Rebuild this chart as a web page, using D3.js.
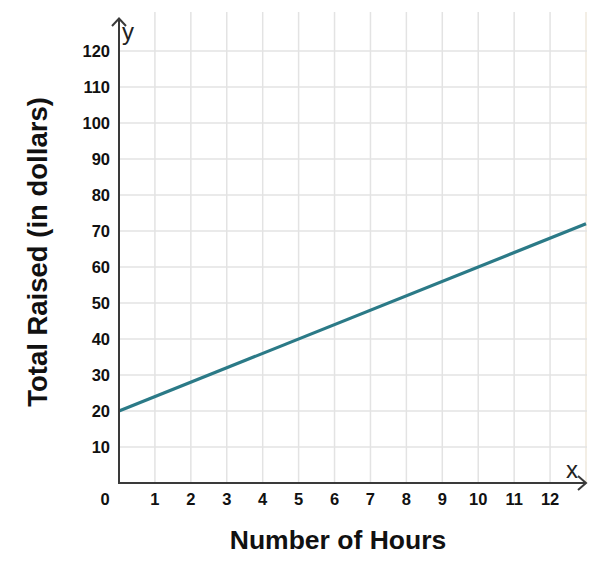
<!DOCTYPE html>
<html><head><meta charset="utf-8">
<script src="https://cdn.jsdelivr.net/npm/d3@7"></script>
<style>body{margin:0;background:#fff}svg{display:block}</style>
</head><body>
<script>
const xTicks = [1,2,3,4,5,6,7,8,9,10,11,12];
const yTicks = [10,20,30,40,50,60,70,80,90,100,110,120];
const lineX = [0, 13];
const lineY = [20, 72];
const xTitle = "Number of Hours";
const yTitle = "Total Raised (in dollars)";

const W = 597, H = 564;
const svg = d3.select("body").append("svg").attr("width", W).attr("height", H);
const x = d3.scaleLinear().domain([0, 13]).range([119, 586]);
const y = d3.scaleLinear().domain([0, 120]).range([483, 51]);
const font = "Liberation Sans, Arial, sans-serif";

// grid
const g = svg.append("g");
g.selectAll("line.v").data(d3.range(1, 14)).join("line")
  .attr("x1", d => x(d)).attr("x2", d => x(d)).attr("y1", 12).attr("y2", 483)
  .attr("stroke", d => d === 13 ? "#efe9dc" : "#e3e3e3").attr("stroke-width", 1.5);
g.selectAll("line.h").data(yTicks).join("line")
  .attr("x1", 119).attr("x2", 587).attr("y1", d => y(d)).attr("y2", d => y(d))
  .attr("stroke", "#e3e3e3").attr("stroke-width", 1.5);

// data line
const pts = lineX.map((v, i) => [v, lineY[i]]);
svg.append("path").datum(pts)
  .attr("d", d3.line().x(d => x(d[0])).y(d => y(d[1])))
  .attr("stroke", "#2b7a87").attr("stroke-width", 3.2).attr("fill", "none");

// axes
svg.append("line").attr("x1", 119).attr("x2", 119).attr("y1", 19).attr("y2", 484)
  .attr("stroke", "#3a3a3a").attr("stroke-width", 2);
svg.append("line").attr("x1", 118).attr("x2", 585).attr("y1", 483).attr("y2", 483)
  .attr("stroke", "#3a3a3a").attr("stroke-width", 2);
svg.append("path").attr("d", "M112,26 L119,18.5 L126,26").attr("fill", "none")
  .attr("stroke", "#3a3a3a").attr("stroke-width", 2);
svg.append("path").attr("d", "M578,476 L586,483 L578,490").attr("fill", "none")
  .attr("stroke", "#3a3a3a").attr("stroke-width", 2);

// tick labels
const tf = 16.5;
svg.selectAll("text.xt").data(xTicks).join("text")
  .attr("x", d => x(d)).attr("y", 505).attr("text-anchor", "middle")
  .attr("font-family", font).attr("font-weight", "bold").attr("font-size", tf)
  .attr("fill", "#111").text(d => d);
svg.selectAll("text.yt").data(yTicks).join("text")
  .attr("x", 110).attr("y", d => y(d) + 6).attr("text-anchor", "end")
  .attr("font-family", font).attr("font-weight", "bold").attr("font-size", tf)
  .attr("fill", "#111").text(d => d);
svg.append("text").attr("x", 105).attr("y", 505).attr("text-anchor", "middle")
  .attr("font-family", font).attr("font-weight", "bold").attr("font-size", tf)
  .attr("fill", "#111").text("0");

// axis letters
svg.append("text").attr("x", 122).attr("y", 40).attr("font-family", font)
  .attr("font-size", 24).attr("fill", "#222").text("y");
svg.append("text").attr("x", 566).attr("y", 478).attr("font-family", font)
  .attr("font-size", 24).attr("fill", "#222").text("x");

// titles
svg.append("text").attr("x", 338).attr("y", 549).attr("text-anchor", "middle")
  .attr("font-family", font).attr("font-weight", "bold").attr("font-size", 26.5)
  .attr("fill", "#111").text(xTitle);
svg.append("text").attr("transform", "translate(47,252) rotate(-90)")
  .attr("text-anchor", "middle")
  .attr("font-family", font).attr("font-weight", "bold").attr("font-size", 27.5)
  .attr("fill", "#111").text(yTitle);
</script>
</body></html>
